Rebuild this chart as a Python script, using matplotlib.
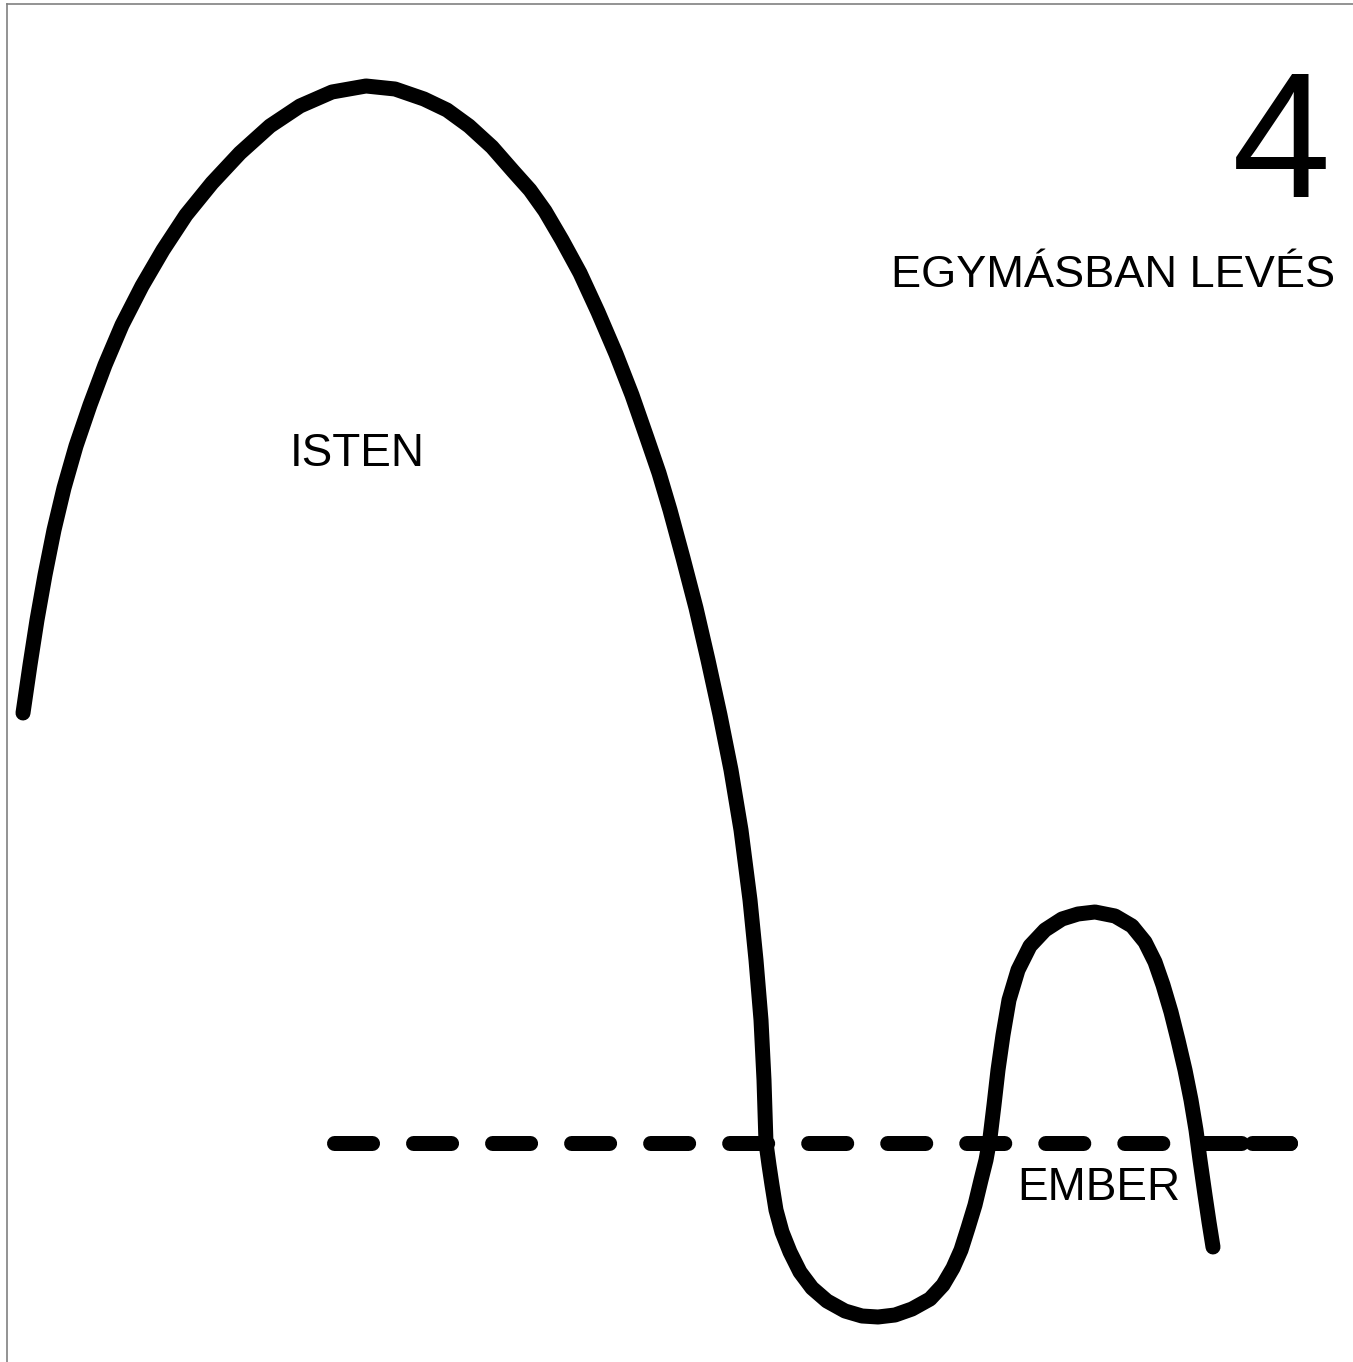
import matplotlib
matplotlib.use('Agg')
from matplotlib import pyplot as plt

plt.rcParams['font.family'] = ['Liberation Sans', 'DejaVu Sans']
plt.rcParams['lines.scale_dashes'] = False

# curve (x to the right, y downwards)
isten_x = [23, 30, 37, 45, 54, 64, 76, 90, 105, 122, 142, 163, 186, 212, 240,
           270, 300, 332, 366, 395, 424, 447, 469, 492, 513,
           530, 545, 562, 580, 598, 616, 632, 647, 659, 670, 683, 696, 708, 720,
           731, 741, 750, 756, 761, 764, 766,
           769, 772, 776, 782, 790, 800, 812, 827, 845, 862, 878, 895, 912, 930,
           943, 953, 961, 968, 975, 981, 986, 990,
           994, 998, 1003, 1009, 1018, 1030, 1045, 1062, 1078, 1095, 1115, 1132,
           1145, 1155, 1163, 1171, 1178, 1185, 1191, 1196, 1200, 1205, 1209, 1213]
isten_y = [713, 665, 620, 575, 530, 488, 446, 405, 365, 325, 286, 250, 215, 183,
           153, 126, 106, 92, 86, 89, 99, 110, 126, 147, 171,
           190, 211, 240, 273, 312, 354, 395, 438, 473, 510, 558, 608, 660,
           715, 770, 830, 900, 960, 1020, 1080, 1143,
           1165, 1185, 1210, 1232, 1252, 1272, 1288, 1301, 1311, 1316, 1317, 1315,
           1309, 1299, 1285, 1268, 1250, 1228, 1205, 1180, 1160, 1138,
           1105, 1070, 1035, 1000, 970, 946, 930, 919, 914, 912, 916, 926, 942,
           962, 985, 1012, 1040, 1070, 1100, 1130, 1160, 1195, 1222, 1247]

ember_level = 1143
ember_segments = [(334, 1290), (1252, 1290)]

number = '4'
title = 'EGYMÁSBAN LEVÉS'
labels = ['ISTEN', 'EMBER']
label_pos = [(357, 466), (1099, 1200)]

W, H = 1353, 1362
fig = plt.figure(figsize=(W / 100, H / 100), dpi=100)
ax = fig.add_axes([7 / W, 0, (W - 7) / W, (H - 4) / H])
ax.set_xlim(7, W)
ax.set_ylim(H, 4)
ax.set_xticks([])
ax.set_yticks([])
for side in ['right', 'bottom']:
    ax.spines[side].set_visible(False)
for side in ['left', 'top']:
    ax.spines[side].set_color('#808080')
    ax.spines[side].set_linewidth(1.2)

lw = 10.8
ax.plot(isten_x, isten_y, color='black', lw=lw, solid_capstyle='round',
        solid_joinstyle='round')
for x0, x1 in ember_segments:
    line, = ax.plot([x0, x1], [ember_level, ember_level], color='black', lw=lw,
                    dash_capstyle='round')
    line.set_dashes((27.4, 29.5))

ax.text(1331, 197, number, fontsize=128, ha='right', va='baseline')
ax.text(1335, 287, title, fontsize=32.5, ha='right', va='baseline')
for lab, (x, y) in zip(labels, label_pos):
    ax.text(x, y, lab, fontsize=33, ha='center', va='baseline')

fig.savefig('out.png', dpi=100)
